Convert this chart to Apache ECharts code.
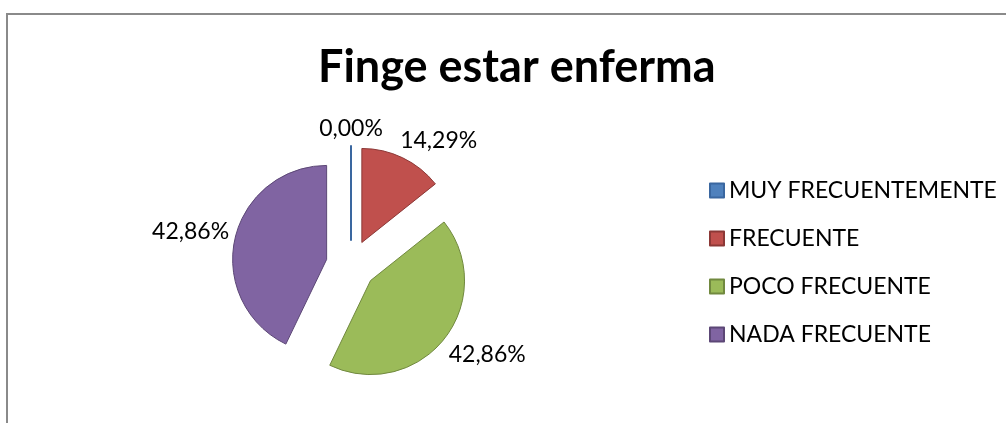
<!DOCTYPE html>
<html>
<head>
<meta charset="utf-8">
<script src="https://cdn.jsdelivr.net/npm/echarts@6/dist/echarts.min.js"></script>
<style>
    html, body { margin: 0; padding: 0; background: #fff; }
    #chart { width: 1006px; height: 423px; }
</style>
</head>
<body>
<div id="chart"></div>
<script>
// datos del grafico
var categorias = ['MUY FRECUENTEMENTE', 'FRECUENTE', 'POCO FRECUENTE', 'NADA FRECUENTE'];
var porcentajes = [0.00, 14.29, 42.86, 42.86];
var colores = ['#4f81bd', '#c0504d', '#9bbb59', '#8064a2'];
var bordes = ['#3a67a0', '#8c3836', '#71893f', '#5c4776'];

var myChart = echarts.init(document.getElementById('chart'));

var datos = categorias.map(function (nombre, i) {
    return {
        name: nombre,
        value: porcentajes[i],
        selected: true,
        itemStyle: { color: colores[i], borderColor: bordes[i], borderWidth: i === 0 ? 2 : 1 }
    };
});

// angulo medio de cada porcion (desde arriba, sentido horario)
var total = porcentajes.reduce(function (a, b) { return a + b; }, 0);
var angMedio = [];
var acum = 0;
porcentajes.forEach(function (v) {
    angMedio.push(2 * Math.PI * (acum + v / 2) / total);
    acum += v;
});

function clamp(x) { return Math.max(-1, Math.min(1, x)); }

var option = {
    animation: false,
    backgroundColor: '#fff',
    graphic: [{
        type: 'rect',
        shape: { x: 7, y: 14, width: 1100, height: 500 },
        style: { fill: 'none', stroke: '#8a8a8a', lineWidth: 2 }
    }],
    title: {
        text: 'Finge estar enferma',
        left: 318,
        top: 45,
        padding: 0,
        textStyle: { fontFamily: 'Lato', fontWeight: 'bold', fontSize: 45, color: '#000' }
    },
    legend: {
        orient: 'vertical',
        left: 709,
        top: 179,
        padding: 0,
        icon: 'rect',
        itemWidth: 14,
        itemHeight: 14,
        itemGap: 25,
        textStyle: { fontFamily: 'Lato', fontSize: 23, color: '#000' },
        data: categorias
    },
    series: [{
        type: 'pie',
        center: [351, 265],
        radius: 94,
        startAngle: 90,
        clockwise: true,
        selectedMode: 'multiple',
        selectedOffset: 25,
        avoidLabelOverlap: false,
        label: {
            show: true,
            position: 'outside',
            fontFamily: 'Lato',
            fontSize: 23,
            color: '#000',
            formatter: function (p) {
                return p.value.toFixed(2).replace('.', ',') + '%';
            }
        },
        labelLine: { show: false, length: 6, length2: 0 },
        // la caja de la etiqueta toca el punto exterior, como en Excel
        labelLayout: function (p) {
            var r = p.labelRect;
            var w = r.width, h = r.height;
            var px = p.align === 'right' ? r.x + w + 5 : r.x - 5;
            var py = r.y + h / 2;
            var a = angMedio[p.dataIndex];
            var ux = Math.sin(a), uy = -Math.cos(a);
            var cx = px + w / 2 * clamp(ux * 2);
            var cy = py + h / 2 * clamp(uy * 2);
            return { dx: cx - (r.x + w / 2), dy: cy - (r.y + h / 2) };
        },
        emphasis: { disabled: true },
        data: datos
    }]
};

myChart.setOption(option);
</script>
</body>
</html>
